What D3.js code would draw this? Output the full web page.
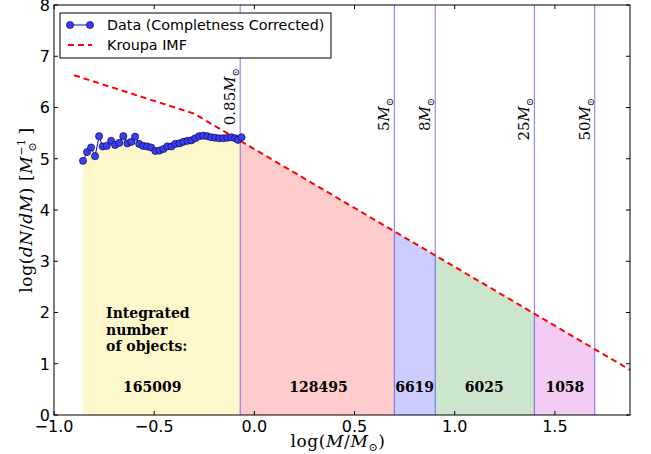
<!DOCTYPE html>
<html>
<head>
<meta charset="utf-8">
<script src="https://cdn.jsdelivr.net/npm/d3@7"></script>
<style>
  body { margin: 0; background: #fff; }
  text { font-family: "DejaVu Sans", sans-serif; }
  .serif { font-family: "DejaVu Serif", serif; }
</style>
</head>
<body>
<div id="chart"></div>
<script>
// Mass function with completeness-corrected data and Kroupa IMF

// Data (log M, log dN/dM)
const dataLogM = [-0.855, -0.835, -0.815, -0.795, -0.775, -0.757, -0.737, -0.715, -0.695, -0.674,
    -0.654, -0.634, -0.614, -0.595, -0.575, -0.555, -0.535, -0.515, -0.494, -0.474,
    -0.454, -0.434, -0.414, -0.394, -0.374, -0.354, -0.334, -0.314, -0.295, -0.275,
    -0.255, -0.235, -0.215, -0.195, -0.175, -0.155, -0.135, -0.115, -0.096, -0.082, -0.064];
const dataLogN = [4.96, 5.13, 5.22, 5.05, 5.44, 5.24, 5.25, 5.35, 5.27, 5.31,
    5.44, 5.30, 5.33, 5.43, 5.29, 5.25, 5.24, 5.22, 5.15, 5.16,
    5.19, 5.24, 5.24, 5.29, 5.30, 5.33, 5.35, 5.36, 5.40, 5.44,
    5.45, 5.44, 5.42, 5.41, 5.40, 5.40, 5.41, 5.42, 5.40, 5.37, 5.42];

// Kroupa IMF break points
const kroupaLogM = [-0.9, -0.301, 1.875];
const kroupaLogN = [6.63, 5.88, 0.88];

// Mass limits (solar masses) and their labels
const massCuts = [0.85, 5, 8, 25, 50];
const cutLabels = ['0.85', '5', '8', '25', '50'];

// Integrated number of objects in each bin
const binCounts = ['165009', '128495', '6619', '6025', '1058'];
const binColors = ['#fff7cc', '#ffcccc', '#ccccff', '#cce6cc', '#f2ccf2'];

const xTicks = [-1.0, -0.5, 0.0, 0.5, 1.0, 1.5];
const yTicks = [0, 1, 2, 3, 4, 5, 6, 7, 8];

const width = 651, height = 454;
const margin = {top: 5, right: 21, bottom: 39, left: 54};
const iw = width - margin.left - margin.right;
const ih = height - margin.top - margin.bottom;

const svg = d3.select('#chart').append('svg')
    .attr('width', width)
    .attr('height', height);

const g = svg.append('g')
    .attr('transform', `translate(${margin.left},${margin.top})`);

const x = d3.scaleLinear().domain([-1.0, 1.875]).range([0, iw]);
const y = d3.scaleLinear().domain([0, 8]).range([ih, 0]);

// piecewise Kroupa interpolation
const kroupa = d3.scaleLinear().domain(kroupaLogM).range(kroupaLogN);

g.append('clipPath').attr('id', 'clip-low')
    .append('rect')
    .attr('x', 0).attr('y', 0)
    .attr('width', x(Math.log10(massCuts[0])))
    .attr('height', ih);

// yellow fill under data
const dataPts = dataLogM.map((m, i) => [m, dataLogN[i]]);
g.append('path')
    .datum(dataPts)
    .attr('clip-path', 'url(#clip-low)')
    .attr('fill', binColors[0])
    .attr('d', d3.area().x(d => x(d[0])).y0(y(0)).y1(d => y(d[1])));

// fills under Kroupa between mass cuts
const area = d3.area().x(d => x(d)).y0(y(0)).y1(d => y(kroupa(d)));
for (let i = 0; i < massCuts.length - 1; i++) {
    const a = Math.log10(massCuts[i]), b = Math.log10(massCuts[i + 1]);
    g.append('path')
        .datum([a, b])
        .attr('fill', binColors[i + 1])
        .attr('d', area);
}

// vertical lines at mass cuts
g.selectAll('line.cut')
    .data(massCuts)
    .enter()
    .append('line')
    .attr('class', 'cut')
    .attr('x1', d => x(Math.log10(d)))
    .attr('x2', d => x(Math.log10(d)))
    .attr('y1', 0)
    .attr('y2', ih)
    .attr('stroke', '#0000ff')
    .attr('stroke-opacity', 0.45)
    .attr('stroke-width', 1.2);

// labels on the cut lines
const labelTop = [6.77, 6.19, 6.19, 6.19, 6.19];
massCuts.forEach((m, i) => {
    const t = g.append('text')
        .attr('class', 'serif')
        .attr('transform', `translate(${x(Math.log10(m)) - 5},${y(labelTop[i])}) rotate(-90)`)
        .attr('text-anchor', 'end')
        .style('font-size', '15px');
    t.append('tspan').text(cutLabels[i]);
    t.append('tspan').style('font-style', 'italic').text('M');
    t.append('tspan').attr('dy', 4).style('font-size', '10px').text('\u2299');
});

// Kroupa dashed line
g.append('path')
    .datum(kroupaLogM.map((m, i) => [m, kroupaLogN[i]]))
    .attr('fill', 'none')
    .attr('stroke', '#ff0000')
    .attr('stroke-width', 2)
    .attr('stroke-dasharray', '6,4')
    .attr('d', d3.line().x(d => x(d[0])).y(d => y(d[1])));

// data line + markers
g.append('path')
    .datum(dataPts)
    .attr('fill', 'none')
    .attr('stroke', '#0000ff')
    .attr('stroke-width', 1)
    .attr('d', d3.line().x(d => x(d[0])).y(d => y(d[1])));

g.selectAll('circle.pt')
    .data(dataPts)
    .enter()
    .append('circle')
    .attr('class', 'pt')
    .attr('cx', d => x(d[0]))
    .attr('cy', d => y(d[1]))
    .attr('r', 3.6)
    .attr('fill', '#3c3cf0')
    .attr('stroke', '#000040')
    .attr('stroke-width', 0.6);

// bin counts
const countPos = [-0.51, 0.32, 0.80, 1.147, 1.55];
g.selectAll('text.count')
    .data(binCounts)
    .enter()
    .append('text')
    .attr('class', 'serif count')
    .attr('x', (d, i) => x(countPos[i]))
    .attr('y', y(0) - 23)
    .attr('text-anchor', 'middle')
    .style('font-size', '14px')
    .style('font-weight', 'bold')
    .text(d => d);

const intro = g.append('text')
    .attr('class', 'serif')
    .attr('x', x(-0.74))
    .attr('y', 313)
    .style('font-size', '14px')
    .style('font-weight', 'bold');
['Integrated', 'number', 'of objects:'].forEach((s, i) => {
    intro.append('tspan')
        .attr('x', x(-0.74))
        .attr('dy', i === 0 ? 0 : 16.5)
        .text(s);
});

// frame
g.append('rect')
    .attr('width', iw)
    .attr('height', ih)
    .attr('fill', 'none')
    .attr('stroke', '#000')
    .attr('stroke-width', 1);

// ticks (inward, all sides)
const tl = 4;
xTicks.forEach(t => {
    g.append('line').attr('x1', x(t)).attr('x2', x(t)).attr('y1', ih).attr('y2', ih - tl).attr('stroke', '#000');
    g.append('line').attr('x1', x(t)).attr('x2', x(t)).attr('y1', 0).attr('y2', tl).attr('stroke', '#000');
    g.append('text')
        .attr('x', x(t))
        .attr('y', ih + 17)
        .attr('text-anchor', 'middle')
        .style('font-size', '16px')
        .text(t < 0 ? '\u2212' + Math.abs(t).toFixed(1) : t.toFixed(1));
});
yTicks.forEach(t => {
    g.append('line').attr('x1', 0).attr('x2', tl).attr('y1', y(t)).attr('y2', y(t)).attr('stroke', '#000');
    g.append('line').attr('x1', iw).attr('x2', iw - tl).attr('y1', y(t)).attr('y2', y(t)).attr('stroke', '#000');
    g.append('text')
        .attr('x', -4)
        .attr('y', y(t))
        .attr('dy', '0.36em')
        .attr('text-anchor', 'end')
        .style('font-size', '16px')
        .text(t);
});

// axis labels
const xl = svg.append('text')
    .attr('class', 'serif')
    .attr('x', margin.left + iw / 2 - 4)
    .attr('y', 447)
    .attr('text-anchor', 'middle')
    .style('font-size', '17px')
    .style('letter-spacing', '0.6px');
xl.append('tspan').text('log(');
xl.append('tspan').style('font-style', 'italic').text('M');
xl.append('tspan').text('/');
xl.append('tspan').style('font-style', 'italic').text('M');
xl.append('tspan').attr('dy', 4).style('font-size', '11px').text('\u2299');
xl.append('tspan').attr('dy', -4).text(')');

const yl = svg.append('text')
    .attr('class', 'serif')
    .attr('transform', `translate(32,${margin.top + ih / 2}) rotate(-90)`)
    .attr('text-anchor', 'middle')
    .style('font-size', '17px')
    .style('letter-spacing', '0.6px');
yl.append('tspan').text('log(');
yl.append('tspan').style('font-style', 'italic').text('dN');
yl.append('tspan').text('/');
yl.append('tspan').style('font-style', 'italic').text('dM');
yl.append('tspan').text(') [');
yl.append('tspan').style('font-style', 'italic').text('M');
yl.append('tspan').attr('dy', -7).style('font-size', '11px').text('\u22121');
yl.append('tspan').attr('dx', -13).attr('dy', 11).style('font-size', '11px').text('\u2299');
yl.append('tspan').attr('dx', 7).attr('dy', -4).text(']');

// legend
const lg = svg.append('g').attr('transform', 'translate(60,13)');
lg.append('rect')
    .attr('width', 271)
    .attr('height', 45)
    .attr('fill', '#fff')
    .attr('stroke', '#000')
    .attr('stroke-width', 1);
lg.append('line')
    .attr('x1', 10).attr('x2', 30).attr('y1', 12).attr('y2', 12)
    .attr('stroke', '#0000ff').attr('stroke-width', 1);
[10, 30].forEach(cx => {
    lg.append('circle')
        .attr('cx', cx).attr('cy', 12).attr('r', 3.6)
        .attr('fill', '#3c3cf0').attr('stroke', '#000040').attr('stroke-width', 0.6);
});
lg.append('text').attr('x', 47).attr('y', 12).attr('dy', '0.36em')
    .style('font-size', '14.3px').text('Data (Completness Corrected)');
lg.append('line')
    .attr('x1', 8).attr('x2', 32).attr('y1', 32).attr('y2', 32)
    .attr('stroke', '#ff0000').attr('stroke-width', 2).attr('stroke-dasharray', '6,4');
lg.append('text').attr('x', 47).attr('y', 32).attr('dy', '0.36em')
    .style('font-size', '14.3px').text('Kroupa IMF');
</script>
</body>
</html>
